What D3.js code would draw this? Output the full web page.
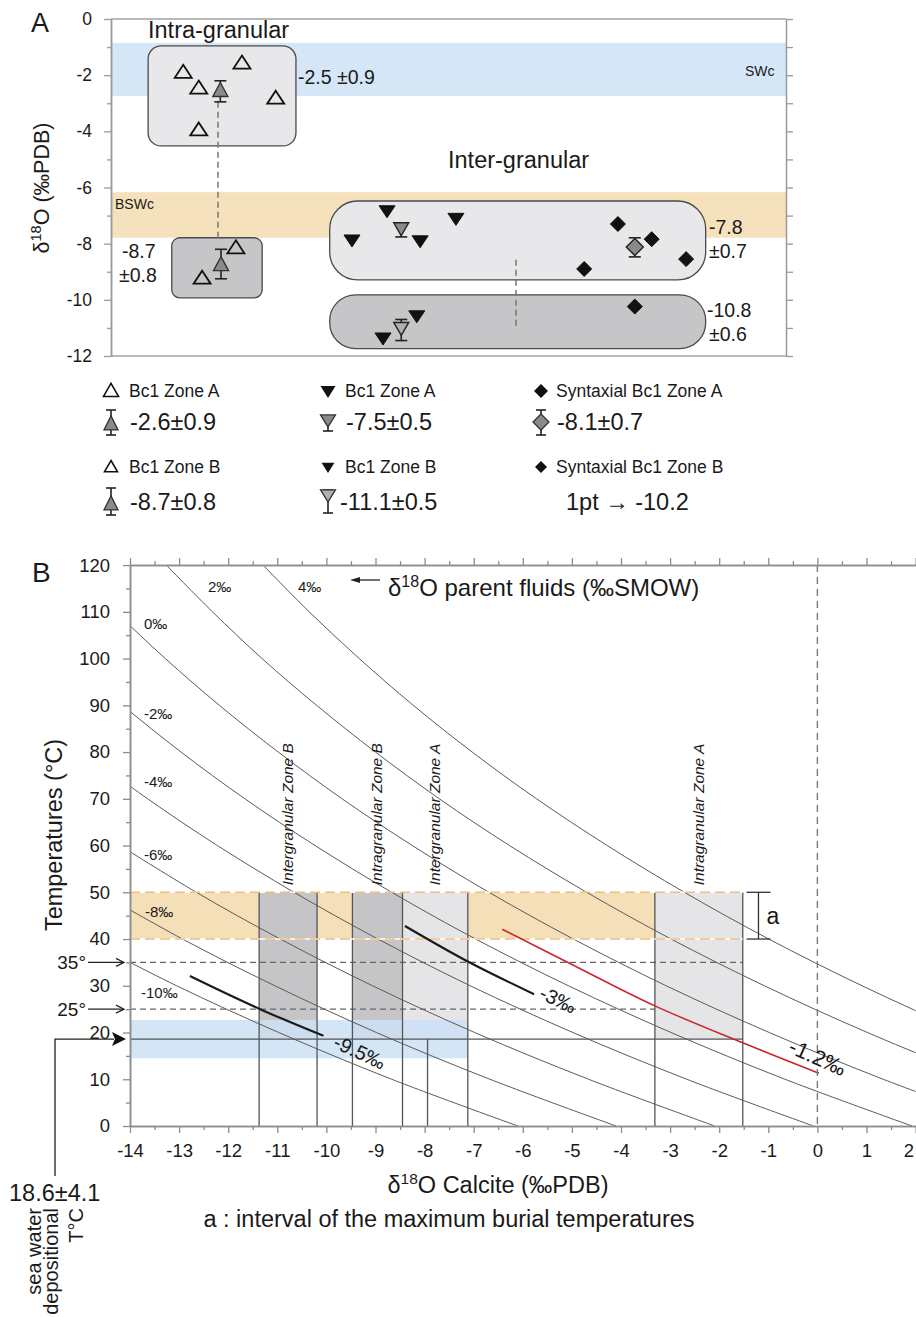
<!DOCTYPE html>
<html><head><meta charset="utf-8">
<script src="https://cdn.jsdelivr.net/npm/d3@7/dist/d3.min.js"></script>
<style>
html,body{margin:0;padding:0;background:#fff}
svg{display:block}
text{font-family:"Liberation Sans",Arial,Helvetica,sans-serif;fill:#1a1a1a}
</style></head><body>
<svg id="chart" width="916" height="1317" viewBox="0 0 916 1317"></svg>
<script>
// ================= Panel A data =================
const aMajorTicks = [0,-2,-4,-6,-8,-10,-12];
const aMinorTicks = [-1,-3,-5,-7,-9,-11];
const aAllTicks = [0,-1,-2,-3,-4,-5,-6,-7,-8,-9,-10,-11,-12];
const swcBand  = [-0.85,-2.74];
const bswcBand = [-6.15,-7.80];
const intraZoneA = [[10.7,-1.90],[13.0,-2.46],[19.4,-1.57],[24.4,-2.82],[13.0,-3.95]];
const intraZoneB = [[18.5,-8.15],[13.5,-9.23]];
const interZoneA = [[35.7,-7.87],[40.9,-6.83],[45.8,-7.90],[51.1,-7.10]];
const interZoneB = [[45.3,-10.57],[40.3,-11.36]];
const syntaxZoneA = [[75.1,-7.30],[80.1,-7.84],[85.2,-8.55],[70.1,-8.90]];
const syntaxZoneB = [[77.6,-10.24]];
// mean markers: [x, mean, error top, error bottom]
const intraMeanA  = [16.2,-2.55,-2.20,-2.95];
const intraMeanB  = [16.3,-8.75,-8.20,-9.25];
const interMeanA  = [43.0,-7.45,-7.30,-7.76];
const interMeanB  = [43.0,-11.0,-10.70,-11.45];
const syntaxMeanA = [77.6,-8.12,-7.79,-8.47];
// group boxes: [x0, x1, top, bottom]
const boxIntraA = [5.5,27.4,-0.96,-4.52];
const boxIntraB = [9.0,22.4,-7.79,-9.93];
const boxInterA = [32.4,88.1,-6.48,-9.29];
const boxInterB = [32.4,88.1,-9.82,-11.74];
// dashed links: [x, from, to]
const linkIntra = [15.85,-2.95,-7.79];
const linkInter = [60.0,-8.57,-11.0];
// legend
const legendNames  = ['Bc1 Zone A','Bc1 Zone A','Syntaxial Bc1 Zone A','Bc1 Zone B','Bc1 Zone B','Syntaxial Bc1 Zone B'];
const legendValues = ['-2.6±0.9','-7.5±0.5','-8.1±0.7','-8.7±0.8','-11.1±0.5','1pt → -10.2'];

// ================= Panel B data =================
const bTempMajor = [0,10,20,30,40,50,60,70,80,90,100,110,120];
const bTempMinor = [5,15,25,35,45,55,65,75,85,95,105,115];
const bXMajor = [-14,-13,-12,-11,-10,-9,-8,-7,-6,-5,-4,-3,-2,-1,0,1,2];
const bXMinor = [-13.5,-12.5,-11.5,-10.5,-9.5,-8.5,-7.5,-6.5,-5.5,-4.5,-3.5,-2.5,-1.5,-0.5,0.5,1.5];
// parent-fluid isolines, calcite δ18O (‰PDB) read at each temperature of curveTemps
const curveTemps = [0,10,20,30,40,50,60,70,80,90,100,110,120];
const fluidNames = ['4‰','2‰','0‰','-2‰','-4‰','-6‰','-8‰','-10‰'];
const fluid4   = [7.95,5.35,3.01,0.91,-0.99,-2.71,-4.28,-5.72,-7.03,-8.23,-9.33,-10.35,-11.29];
const fluid2   = [5.94,3.35,1.02,-1.08,-2.98,-4.70,-6.27,-7.70,-9.00,-10.20,-11.31,-12.32,-13.26];
const fluid0   = [3.94,1.34,-0.98,-3.08,-4.97,-6.69,-8.25,-9.68,-10.98,-12.18,-13.28,-14.29,-15.23];
const fluidM2  = [1.93,-0.66,-2.98,-5.07,-6.96,-8.67,-10.23,-11.66,-12.96,-14.15,-15.25];
const fluidM4  = [-0.08,-2.66,-4.98,-7.07,-8.95,-10.66,-12.22,-13.64,-14.94];
const fluidM6  = [-2.09,-4.66,-6.98,-9.06,-10.94,-12.65,-14.20];
const fluidM8  = [-4.10,-6.67,-8.98,-11.05,-12.93,-14.63];
const fluidM10 = [-6.10,-8.67,-10.97,-13.05,-14.92];
// highlighted isolines: [calcite, T]
const seg95 = [[-12.78,32.1],[-11.35,25.0],[-10.06,19.3]];
const seg3  = [[-8.40,42.8],[-7.12,35.2],[-5.77,28.2]];
const seg12 = [[-6.42,42.1],[-5.12,35.2],[-3.31,25.7],[-1.52,17.8],[0.03,11.3]];
// zone columns
const colNames = ['Intergranular Zone B','Intragranular Zone B','Intergranular Zone A','Intragranular Zone A'];
const colLeft  = [-11.37,-9.47,-8.45,-3.31];
const colRight = [-10.19,-8.45,-7.12,-1.52];
const extraLine = -7.94;
const burialBand = [40,50];
const seaBand = [14.5,22.7];
const seaT = 18.6;
const guideTemps = [35,25];
const guideEnds = [-1.52,-3.31];
const bandEnd = -1.52;
const seaBandEnd = -7.12;

// ================= drawing =================
const svg = d3.select('#chart');
const S = (sel, o) => { for (const k in o) sel.attr(k, o[k]); return sel; };

// ---------- Panel A ----------
const xA = d3.scaleLinear().domain([0,100]).range([111,786]);
const yA = d3.scaleLinear().domain([0,-12]).range([19,356]);
const gA = svg.append('g');

S(gA.append('rect'), {x:xA(0), width:xA(100)-xA(0), y:yA(swcBand[0]), height:yA(swcBand[1])-yA(swcBand[0]), fill:'#d5e6f6'});
S(gA.append('rect'), {x:xA(0), width:xA(100)-xA(0), y:yA(bswcBand[0]), height:yA(bswcBand[1])-yA(bswcBand[0]), fill:'#f6e1bd'});
bswcBand.forEach(v => S(gA.append('line'), {x1:xA(0), x2:xA(100), y1:yA(v), y2:yA(v), stroke:'#fff', 'stroke-width':1.3, 'stroke-dasharray':'5,3'}));

// frame top / bottom
[0,-12].forEach(v => S(gA.append('line'), {x1:xA(0), x2:xA(100), y1:yA(v), y2:yA(v), stroke:'#a3a3a3', 'stroke-width':1.5}));

function styleAxis(g, col, fs){
  g.select('.domain').attr('stroke', col).attr('stroke-width',1.5);
  g.selectAll('.tick line').attr('stroke', col).attr('stroke-width',1.3);
  g.selectAll('.tick text').attr('font-size', fs).attr('fill','#222').attr('font-family','"Liberation Sans",Arial,sans-serif');
}
const fmt = d => String(d);
let ax = gA.append('g').attr('transform',`translate(${xA(0)},0)`).call(d3.axisLeft(yA).tickValues(aMajorTicks).tickSize(7).tickSizeOuter(0).tickPadding(12).tickFormat(fmt));
styleAxis(ax,'#9a9a9a',17.5);
ax = gA.append('g').attr('transform',`translate(${xA(0)},0)`).call(d3.axisLeft(yA).tickValues(aMinorTicks).tickSize(4).tickSizeOuter(0).tickFormat(''));
styleAxis(ax,'#9a9a9a',17);
ax = gA.append('g').attr('transform',`translate(${xA(100)},0)`).call(d3.axisRight(yA).tickValues(aAllTicks).tickSize(7).tickSizeOuter(0).tickFormat(''));
styleAxis(ax,'#9a9a9a',17);

// boxes
function box(b, fill, rx){
  S(gA.append('rect'), {x:xA(b[0]), y:yA(b[2]), width:xA(b[1])-xA(b[0]), height:yA(b[3])-yA(b[2]), rx:rx, ry:rx, fill:fill, stroke:'#4a4a4a', 'stroke-width':1.3});
}
box(boxIntraA,'#e8e8ea',13);
box(boxIntraB,'#c6c6c8',8);
box(boxInterA,'#e8e8ea',28);
box(boxInterB,'#c6c6c8',26);

[linkIntra, linkInter].forEach(l => S(gA.append('line'), {x1:xA(l[0]), x2:xA(l[0]), y1:yA(l[1]), y2:yA(l[2]), stroke:'#777', 'stroke-width':1.5, 'stroke-dasharray':'6,4'}));

// symbol paths
const triUp = (cx,cy,w,h) => `M${cx},${cy-h*0.58}L${cx+w/2},${cy+h*0.42}L${cx-w/2},${cy+h*0.42}Z`;
const triDown = (cx,cy,w,h) => `M${cx},${cy+h*0.58}L${cx+w/2},${cy-h*0.42}L${cx-w/2},${cy-h*0.42}Z`;
const diamond = (cx,cy,w) => `M${cx},${cy-w/2}L${cx+w/2},${cy}L${cx},${cy+w/2}L${cx-w/2},${cy}Z`;

function errBar(g, cx, y0, y1, cap){
  S(g.append('line'), {x1:cx, x2:cx, y1:y0, y2:y1, stroke:'#222', 'stroke-width':1.6});
  [y0,y1].forEach(y => S(g.append('line'), {x1:cx-cap/2, x2:cx+cap/2, y1:y, y2:y, stroke:'#222', 'stroke-width':1.6}));
}

intraZoneA.concat(intraZoneB).forEach(d => S(gA.append('path'), {d:triUp(xA(d[0]),yA(d[1]),17,13), fill:'none', stroke:'#111', 'stroke-width':1.8}));
interZoneA.concat(interZoneB).forEach(d => S(gA.append('path'), {d:triDown(xA(d[0]),yA(d[1]),16,12), fill:'#111', stroke:'#111', 'stroke-width':1}));
syntaxZoneA.concat(syntaxZoneB).forEach(d => S(gA.append('path'), {d:diamond(xA(d[0]),yA(d[1]),15), fill:'#111', stroke:'#111', 'stroke-width':1}));

[intraMeanA, intraMeanB].forEach(m => {
  errBar(gA, xA(m[0]), yA(m[2]), yA(m[3]), 12);
  S(gA.append('path'), {d:triUp(xA(m[0]),yA(m[1]),15,14), fill:'#8a8a8a', stroke:'#333', 'stroke-width':1.4});
});
[interMeanA, interMeanB].forEach((m,i) => {
  errBar(gA, xA(m[0]), yA(m[2]), yA(m[3]), 12);
  S(gA.append('path'), {d:triDown(xA(m[0]),yA(m[1]),15,13), fill: i===0 ? '#8a8a8a' : '#b0b0b0', stroke:'#222', 'stroke-width':1.4});
});
errBar(gA, xA(syntaxMeanA[0]), yA(syntaxMeanA[2]), yA(syntaxMeanA[3]), 12);
S(gA.append('path'), {d:diamond(xA(syntaxMeanA[0]),yA(syntaxMeanA[1]),17), fill:'#8a8a8a', stroke:'#222', 'stroke-width':1.4});

// Panel A texts
function txt(g, x, y, s, fs, extra){
  const t = S(g.append('text'), Object.assign({x:x, y:y, 'font-size':fs}, extra||{}));
  t.text(s); return t;
}
txt(gA, 31, 32, 'A', 27);
txt(gA, 148, 38, 'Intra-granular', 23.5);
txt(gA, 448, 168, 'Inter-granular', 23.5);
txt(gA, 298, 84, '-2.5 ±0.9', 19.5);
txt(gA, 122, 258, '-8.7', 19.5);
txt(gA, 119, 282, '±0.8', 19.5);
txt(gA, 709, 234, '-7.8', 19.5);
txt(gA, 709, 258, '±0.7', 19.5);
txt(gA, 707, 317, '-10.8', 19.5);
txt(gA, 709, 341, '±0.6', 19.5);
txt(gA, 745, 76, 'SWc', 14, {fill:'#333'});
txt(gA, 115, 209, 'BSWc', 14, {fill:'#333'});
{
  const t = S(gA.append('text'), {transform:'translate(49,188) rotate(-90)', 'text-anchor':'middle', 'font-size':21.5});
  t.append('tspan').text('δ');
  t.append('tspan').attr('dy',-8).attr('font-size',14.5).text('18');
  t.append('tspan').attr('dy',8).text('O (‰PDB)');
}

// Legend
const gL = svg.append('g');
const legX = [111, 328, 541];
const legTextX = [129, 345, 556];
// row 1 and 3 : plain symbols
[[391,0],[467,1]].forEach(([y,r]) => {
  const sz = r===0 ? 1 : 0.85;
  S(gL.append('path'), {d:triUp(legX[0],y,14*sz+1,12*sz+1), fill:'none', stroke:'#111', 'stroke-width':1.6});
  S(gL.append('path'), {d:triDown(legX[1],y,15*sz,12*sz), fill:'#111'});
  S(gL.append('path'), {d:diamond(legX[2],y,13*sz+1), fill:'#111'});
  for (let c=0;c<3;c++) txt(gL, legTextX[c], y+6, legendNames[r*3+c], 17.5);
});
// row 2 values with mean symbols
errBar(gL, legX[0], 410, 435, 10);
S(gL.append('path'), {d:triUp(legX[0],424,14,14), fill:'#8a8a8a', stroke:'#333', 'stroke-width':1.3});
errBar(gL, legX[1], 417, 431, 10);
S(gL.append('path'), {d:triDown(legX[1],420,15,12), fill:'#8a8a8a', stroke:'#333', 'stroke-width':1.3});
errBar(gL, legX[2], 410, 435, 10);
S(gL.append('path'), {d:diamond(legX[2],422,16), fill:'#8a8a8a', stroke:'#333', 'stroke-width':1.3});
txt(gL, 130, 430, legendValues[0], 23.5);
txt(gL, 346, 430, legendValues[1], 23.5);
txt(gL, 557, 430, legendValues[2], 23.5);
// row 4
errBar(gL, legX[0], 488, 515, 10);
S(gL.append('path'), {d:triUp(legX[0],504,14,14), fill:'#8a8a8a', stroke:'#333', 'stroke-width':1.3});
errBar(gL, legX[1], 490, 513, 10);
S(gL.append('path'), {d:triDown(legX[1],495,15,12), fill:'#b0b0b0', stroke:'#333', 'stroke-width':1.3});
txt(gL, 130, 510, legendValues[3], 23.5);
txt(gL, 340, 510, legendValues[4], 23.5);
txt(gL, 566, 510, legendValues[5], 23.5);

// ---------- Panel B ----------
const xB = d3.scaleLinear().domain([-14,2]).range([130,915.6]);
const yB = d3.scaleLinear().domain([0,120]).range([1126,565.1]);
const gB = svg.append('g');
S(gB.append('clipPath').attr('id','clipB').append('rect'), {x:xB(-14), y:yB(120), width:xB(2)-xB(-14), height:yB(0)-yB(120)});

// burial band
S(gB.append('rect'), {x:xB(-14), y:yB(burialBand[1]), width:xB(bandEnd)-xB(-14), height:yB(burialBand[0])-yB(burialBand[1]), fill:'#f5dfb9'});
// zone columns
const colFill = ['#c5c5c7','#c5c5c7','#e5e5e7','#e5e5e7'];
colNames.forEach((n,i) => S(gB.append('rect'), {x:xB(colLeft[i]), y:yB(burialBand[1]), width:xB(colRight[i])-xB(colLeft[i]), height:yB(seaT)-yB(burialBand[1]), fill:colFill[i]}));
// sea water band
S(gB.append('rect'), {x:xB(-14), y:yB(seaBand[1]), width:xB(seaBandEnd)-xB(-14), height:yB(seaBand[0])-yB(seaBand[1]), fill:'#cde1f4', opacity:0.85});

// isolines
const lineB = d3.line().x(d => xB(d[0])).y(d => yB(d[1])).curve(d3.curveCatmullRom);
const fluids = [fluid4, fluid2, fluid0, fluidM2, fluidM4, fluidM6, fluidM8, fluidM10];
const gCurves = gB.append('g').attr('clip-path','url(#clipB)');
fluids.forEach(arr => {
  const pts = arr.map((v,i) => [v, curveTemps[i]]);
  S(gCurves.append('path'), {d:lineB(pts), fill:'none', stroke:'#5a5a5a', 'stroke-width':1});
});

// dashed temperature guides
guideTemps.forEach((t,i) => S(gB.append('line'), {x1:xB(-14), x2:xB(guideEnds[i]), y1:yB(t), y2:yB(t), stroke:'#666', 'stroke-width':1.4, 'stroke-dasharray':'6,4'}));
// column edges
const edges = Array.from(new Set(colLeft.concat(colRight)));
edges.forEach(x => S(gB.append('line'), {x1:xB(x), x2:xB(x), y1:yB(burialBand[1]), y2:yB(0), stroke:'#555', 'stroke-width':1.3}));
S(gB.append('line'), {x1:xB(extraLine), x2:xB(extraLine), y1:yB(seaT), y2:yB(0), stroke:'#555', 'stroke-width':1.3});
S(gB.append('line'), {x1:xB(-14), x2:xB(bandEnd), y1:yB(seaT), y2:yB(seaT), stroke:'#555', 'stroke-width':1.3});
// burial band dashed edges
burialBand.forEach(t => {
  S(gB.append('line'), {x1:xB(-14), x2:xB(bandEnd), y1:yB(t), y2:yB(t), stroke:'#fff', 'stroke-width':1.6});
  S(gB.append('line'), {x1:xB(-14), x2:xB(bandEnd), y1:yB(t), y2:yB(t), stroke:'#f0bd80', 'stroke-width':1.4, 'stroke-dasharray':'10,5'});
});
// highlighted isolines
const lineSeg = d3.line().x(d => xB(d[0])).y(d => yB(d[1])).curve(d3.curveCatmullRom);
S(gB.append('path'), {d:lineSeg(seg95), fill:'none', stroke:'#1a1a1a', 'stroke-width':2.2});
S(gB.append('path'), {d:lineSeg(seg3), fill:'none', stroke:'#1a1a1a', 'stroke-width':2.2});
S(gB.append('path'), {d:lineSeg(seg12), fill:'none', stroke:'#c8262c', 'stroke-width':1.5});
// zero line
S(gB.append('line'), {x1:xB(0), x2:xB(0), y1:yB(120), y2:yB(0), stroke:'#777', 'stroke-width':1.4, 'stroke-dasharray':'7,5'});

// axes
ax = gB.append('g').attr('transform',`translate(${xB(-14)},0)`).call(d3.axisLeft(yB).tickValues(bTempMajor).tickSize(7).tickSizeOuter(0).tickPadding(13).tickFormat(fmt));
styleAxis(ax,'#8c8c8c',18.5);
ax = gB.append('g').attr('transform',`translate(${xB(-14)},0)`).call(d3.axisLeft(yB).tickValues(bTempMinor).tickSize(4).tickSizeOuter(0).tickFormat(''));
styleAxis(ax,'#8c8c8c',18);
ax = gB.append('g').attr('transform',`translate(0,${yB(0)})`).call(d3.axisBottom(xB).tickValues(bXMajor).tickSize(7).tickSizeOuter(0).tickPadding(11).tickFormat(fmt));
styleAxis(ax,'#8c8c8c',18.5);
// keep the last label inside the picture
ax.selectAll('.tick text').filter(d => d === 2).attr('text-anchor','end').attr('dx', -2);
ax = gB.append('g').attr('transform',`translate(0,${yB(0)})`).call(d3.axisBottom(xB).tickValues(bXMinor).tickSize(4).tickSizeOuter(0).tickFormat(''));
styleAxis(ax,'#8c8c8c',18);
ax = gB.append('g').attr('transform',`translate(0,${yB(120)})`).call(d3.axisTop(xB).tickValues(bXMajor).tickSize(7).tickSizeOuter(0).tickFormat(''));
styleAxis(ax,'#8c8c8c',18);
ax = gB.append('g').attr('transform',`translate(0,${yB(120)})`).call(d3.axisTop(xB).tickValues(bXMinor).tickSize(4).tickSizeOuter(0).tickFormat(''));
styleAxis(ax,'#8c8c8c',18);

// column labels
colNames.forEach((n,i) => {
  const cx = xB((colLeft[i]+colRight[i])/2) + 5;
  S(gB.append('text'), {transform:`translate(${cx},${yB(51.5)}) rotate(-90)`, 'font-size':15.5, 'font-style':'italic', fill: i===2 ? '#6a6a6a' : '#333'}).text(n);
});

// isoline labels
const fluidLabelPos = [[298,592],[208,592],[144,629],[144,719],[144,787],[144,860],[145,917],[141,998]];
fluidNames.forEach((n,i) => txt(gB, fluidLabelPos[i][0], fluidLabelPos[i][1], n, 15, {fill:'#333'}));
txt(gB, 332, 1047, '-9.5‰', 20, {transform:'rotate(25 332 1047)'});
txt(gB, 538, 998, '-3‰', 20, {transform:'rotate(25 538 998)'});
txt(gB, 787, 1052, '-1.2‰', 22, {transform:'rotate(24 787 1052)', fill:'#c8262c'});

// 'a' bracket
{
  const bx = xB(-1.2);
  S(gB.append('line'), {x1:bx, x2:bx, y1:yB(burialBand[1]), y2:yB(burialBand[0]), stroke:'#333', 'stroke-width':1.3});
  burialBand.forEach(t => S(gB.append('line'), {x1:bx-12, x2:bx+12, y1:yB(t), y2:yB(t), stroke:'#333', 'stroke-width':1.3}));
  txt(gB, bx+8, yB(45)+8, 'a', 23);
}

// parent fluid title with arrow
S(gB.append('line'), {x1:380, x2:356, y1:580, y2:580, stroke:'#222', 'stroke-width':1.3});
S(gB.append('path'), {d:'M350,580L360,577L360,583Z', fill:'#222'});
{
  const t = S(gB.append('text'), {x:388, y:596, 'font-size':24});
  t.append('tspan').text('δ');
  t.append('tspan').attr('dy',-9).attr('font-size',16).text('18');
  t.append('tspan').attr('dy',9).text('O parent fluids (‰SMOW)');
}
// axis titles
{
  const t = S(gB.append('text'), {x:498, y:1193, 'font-size':23.5, 'text-anchor':'middle'});
  t.append('tspan').text('δ');
  t.append('tspan').attr('dy',-9).attr('font-size',15.5).text('18');
  t.append('tspan').attr('dy',9).text('O Calcite (‰PDB)');
}
S(gB.append('text'), {transform:'translate(62,835) rotate(-90)', 'font-size':23.5, 'text-anchor':'middle'}).text('Temperatures  (°C)');
txt(gB, 449, 1227, 'a : interval of the maximum burial temperatures', 23.5, {'text-anchor':'middle'});
txt(gB, 32, 582, 'B', 28);

// left markers 35°, 25°
guideTemps.forEach(t => {
  txt(gB, 86, yB(t)+7, t + '°', 19, {'text-anchor':'end'});
  S(gB.append('line'), {x1:88, x2:124, y1:yB(t), y2:yB(t), stroke:'#222', 'stroke-width':1.2});
  S(gB.append('path'), {d:`M116,${yB(t)-4}L124,${yB(t)}L116,${yB(t)+4}`, fill:'none', stroke:'#222', 'stroke-width':1.2});
});
// sea water depositional T
S(gB.append('path'), {d:`M55,1176V${yB(seaT)}H114`, fill:'none', stroke:'#222', 'stroke-width':1.3});
S(gB.append('path'), {d:`M112,${yB(seaT)-7}L126,${yB(seaT)}L112,${yB(seaT)+7}L115,${yB(seaT)}Z`, fill:'#111'});
txt(gB, 9, 1201, '18.6±4.1', 23.5);
[['sea water',41],['depositional',58],['T°C',83]].forEach(([s,x]) =>
  S(gB.append('text'), {transform:`translate(${x},1208) rotate(-90)`, 'text-anchor':'end', 'font-size':20}).text(s));
</script>
</body></html>
